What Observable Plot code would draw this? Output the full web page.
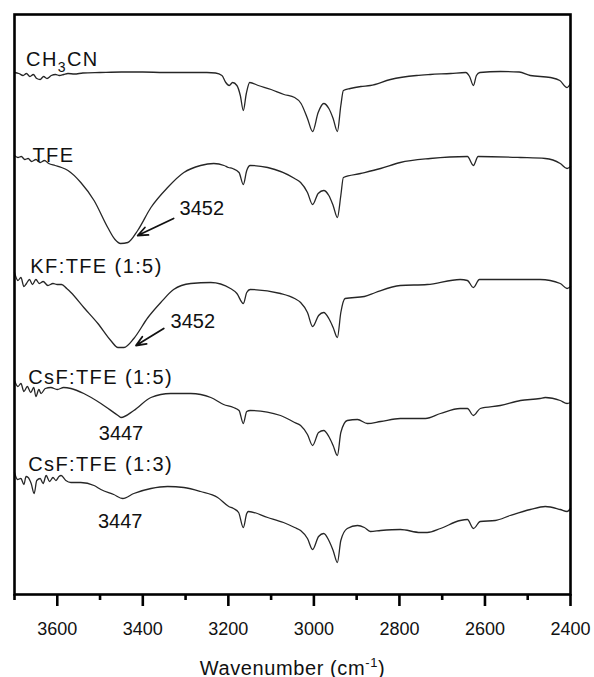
<!DOCTYPE html>
<html>
<head>
<meta charset="utf-8">
<script src="https://cdn.jsdelivr.net/npm/d3@7"></script>
<script src="https://cdn.jsdelivr.net/npm/@observablehq/plot@0.6"></script>
<style>
  html, body { margin: 0; padding: 0; background: #fff; }
  #chart svg { display: block; }
</style>
</head>
<body>
<div id="chart"></div>
<script>
// Spectra: [wavenumber (cm-1), transmittance offset (a.u.)]
const ch3cn = [
  [3700,522],[3690,521],[3680,519],[3672,521],[3664,518],[3656,520],[3648,516],[3640,515],[3632,518],[3624,516],
  [3614,519],[3604,520],[3595,519],[3585,520],[3575,521],[3560,520.5],[3540,521.5],[3500,522],[3450,522.5],[3400,522.5],
  [3350,522],[3300,522],[3250,522],[3230,521.5],[3215,519],[3206,512],[3198,509],[3190,512],[3180,509],[3172,499],
  [3165,484],[3158,501],[3150,512],[3130,509],[3100,505],[3070,500],[3045,497],[3030,491],[3015,476],[3003,463],
  [2990,482],[2977,491],[2965,486],[2955,476],[2945,463],[2937,489],[2931,504],[2915,506],[2890,508],[2868,509],
  [2821,515],[2760,519],[2728,520],[2680,521],[2645,522],[2636,518],[2627,509],[2620,519],[2612,522],[2564,523],
  [2520,522.5],[2494,519],[2447,517],[2425,514],[2408,507],[2400,511]
];
const tfe = [
  [3700,439],[3692,437],[3684,438],[3676,435],[3668,436],[3660,433],[3650,435],[3640,432],[3630,434],[3620,431],
  [3605,429],[3590,427],[3575,424],[3545,412],[3514,394],[3482,367],[3465,355],[3452,351],[3435,352],[3412,364],
  [3381,387],[3342,407],[3304,422],[3265,429],[3234,431],[3210,429],[3200,427],[3190,426],[3175,422],[3165,410],
  [3157,424],[3149,429],[3108,427],[3045,416],[3031,412],[3015,402],[3003,390],[2990,401],[2977,404],[2965,399],
  [2955,389],[2945,377],[2937,399],[2931,417],[2891,421],[2844,426],[2798,432],[2728,436],[2641,438],[2627,429],
  [2616,438],[2517,437],[2459,436],[2424,431],[2408,426],[2400,428]
];
const kfTfe15 = [
  [3700,322],[3692,314],[3685,317],[3678,308],[3672,311],[3665,315],[3658,310],[3650,315],[3642,311],[3633,313],
  [3622,309],[3610,311],[3600,310],[3590,310],[3578,306],[3568,302],[3538,287],[3505,271],[3475,254],[3458,247],
  [3444,247],[3421,256],[3388,277],[3358,292],[3328,305],[3288,311],[3241,312],[3195,306],[3180,301],[3165,291],
  [3157,302],[3149,305],[3078,301],[3045,296],[3031,292],[3015,282],[3003,268],[2989,279],[2977,282],[2965,276],
  [2955,267],[2945,257],[2937,282],[2927,296],[2882,298],[2856,302],[2798,309],[2735,310],[2658,315],[2641,314],
  [2627,307],[2613,315],[2517,315],[2471,315],[2424,311],[2408,306],[2400,308]
];
const csfTfe15 = [
  [3700,214],[3692,208],[3685,211],[3678,203],[3670,208],[3662,202],[3655,207],[3650,198],[3643,205],[3638,201],
  [3628,206],[3615,207],[3600,205],[3585,207],[3568,206],[3538,201],[3498,191],[3458,179],[3451,177],[3421,184],
  [3381,197],[3335,201],[3288,201],[3241,197],[3211,190],[3188,187],[3175,184],[3165,171],[3157,183],[3149,184],
  [3078,179],[3045,172],[3031,169],[3015,160],[3003,149],[2989,162],[2977,164],[2965,158],[2955,149],[2945,139],
  [2937,162],[2922,174],[2898,175],[2875,171],[2844,173],[2798,176],[2739,176],[2704,181],[2658,186],[2641,186],
  [2627,179],[2611,186],[2564,189],[2517,194],[2471,196],[2459,197],[2424,194],[2408,191],[2400,192]
];
const csfTfe13 = [
  [3700,122],[3693,115],[3685,116],[3678,110],[3673,118],[3668,117],[3661,111],[3654,101],[3648,114],[3640,116],
  [3633,111],[3626,119],[3618,113],[3610,117],[3603,114],[3596,118],[3591,119],[3580,114],[3568,112],[3545,112],
  [3514,109],[3498,105],[3468,100],[3447,96],[3421,101],[3381,106],[3342,108],[3304,107],[3265,103],[3225,97],
  [3199,88],[3188,86],[3176,82],[3165,67],[3157,81],[3153,83],[3108,77],[3071,72],[3045,67],[3031,64],
  [3015,56],[3003,45],[2989,58],[2977,61],[2965,54],[2955,44],[2945,32],[2937,54],[2922,66],[2898,69],
  [2882,67],[2868,63],[2844,64],[2798,65],[2751,62],[2735,62],[2704,66],[2658,74],[2641,75],[2627,66],
  [2611,73],[2576,74],[2541,79],[2494,85],[2459,88],[2424,85],[2408,83],[2400,86]
];

const seriesNames = ["CH3CN", "TFE", "KF:TFE (1:5)", "CsF:TFE (1:5)", "CsF:TFE (1:3)"];
const seriesData = [ch3cn, tfe, kfTfe15, csfTfe15, csfTfe13];

// Labels: [wavenumber at left edge, baseline value]
const seriesLabelPos = [[3673,529],[3658,433],[3663,321.5],[3668,211],[3668,124]];
const peakLabels = ["3452", "3452", "3447", "3447"];
const peakLabelPos = [[3314,380],[3335,267],[3503,155],[3505,67]];
// Arrows: [x1, y1, x2, y2]
const arrows = [[3328,376,3412,359],[3351,266,3416,249]];

const majorTicks = [3600, 3400, 3200, 3000, 2800, 2600, 2400];
const minorTicks = [3700, 3500, 3300, 3100, 2900, 2700, 2500];
const xTitle = "Wavenumber (cm-1)";

const rows = seriesData.flatMap((s, i) => s.map(([w, v]) => ({series: seriesNames[i], w, v})));
const seriesLabels = seriesNames.map((n, i) => ({text: n, w: seriesLabelPos[i][0], v: seriesLabelPos[i][1]}));
const peaks = peakLabels.map((t, i) => ({text: t, w: peakLabelPos[i][0], v: peakLabelPos[i][1]}));
const arrowRows = arrows.map(([x1, y1, x2, y2]) => ({x1, y1, x2, y2}));

const plot = Plot.plot({
  width: 594,
  height: 677,
  marginTop: 14,
  marginBottom: 83,
  marginLeft: 14,
  marginRight: 24,
  style: {fontFamily: "'Liberation Sans', Arial, Helvetica, sans-serif", background: "#fff", color: "#111"},
  x: {domain: [3700, 2400], label: null},
  y: {domain: [0, 580], axis: null},
  marks: [
    Plot.line(rows, {x: "w", y: "v", z: "series", stroke: "#262626", strokeWidth: 1.3, curve: "monotone-x"}),
    Plot.text(seriesLabels, {x: "w", y: "v", text: "text", textAnchor: "start", lineAnchor: "bottom", fontSize: 20, fill: "#111"}),
    Plot.text(peaks, {x: "w", y: "v", text: "text", textAnchor: "start", lineAnchor: "bottom", fontSize: 20, fill: "#111"}),
    Plot.arrow(arrowRows, {x1: "x1", y1: "y1", x2: "x2", y2: "y2", stroke: "#111", strokeWidth: 1.8, headLength: 9, headAngle: 45}),
    Plot.frame({stroke: "#000", strokeWidth: 2.6}),
    Plot.axisX(majorTicks, {tickSize: 12, tickPadding: 16, fontSize: 18, strokeWidth: 2.6, stroke: "#000", fill: "#111", tickFormat: d => String(d), label: null}),
    Plot.axisX(minorTicks, {tickSize: 6, strokeWidth: 2.6, stroke: "#000", tickFormat: () => "", label: null}),
    Plot.text([xTitle], {frameAnchor: "bottom", text: d => d, dy: 80, lineAnchor: "bottom", fontSize: 20, fill: "#111"})
  ]
});

document.getElementById("chart").appendChild(plot);

const svg = d3.select(plot);
svg.selectAll("text").each(function() {
  const t = this.textContent;
  const el = d3.select(this);
  if (seriesNames.includes(t)) el.style("letter-spacing", "1.4px");
  if (t === "CH3CN") {
    el.text(null);
    el.append("tspan").text("CH");
    el.append("tspan").attr("dy", 6).attr("font-size", 14).text("3");
    el.append("tspan").attr("dy", -6).text("CN");
  } else if (t === xTitle) {
    el.style("letter-spacing", "0.6px");
    el.text(null);
    el.append("tspan").text("Wavenumber (cm");
    el.append("tspan").attr("dy", -8).attr("font-size", 13).text("-1");
    el.append("tspan").attr("dy", 8).text(")");
  }
});
</script>
</body>
</html>
